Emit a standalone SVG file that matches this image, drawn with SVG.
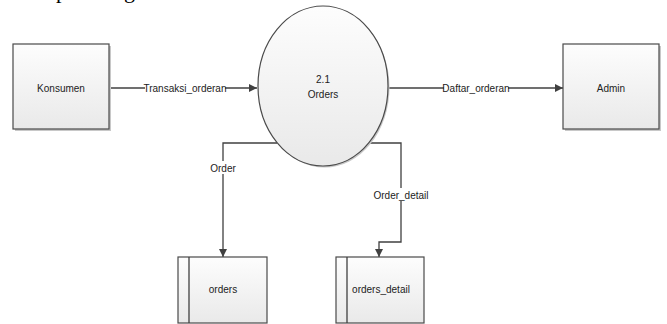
<svg xmlns="http://www.w3.org/2000/svg" width="667" height="324" viewBox="0 0 667 324">
<style>
.shape{fill:url(#g);stroke:#4a4a4a;stroke-width:1.2}
.shadow{fill:#c8c8c8;stroke:none}
.line{fill:none;stroke:#404040;stroke-width:1.3}
.lbl{font-family:"Liberation Sans",Arial,sans-serif;font-size:10px;fill:#222;text-anchor:middle}
.bg{fill:#fff}
.frag{font-family:"Liberation Serif","Times New Roman",serif;font-size:22px;fill:#000}
</style>
<defs>
<linearGradient id="g" x1="0" y1="0" x2="0" y2="1">
<stop offset="0" stop-color="#fdfdfd"/>
<stop offset="1" stop-color="#e9e9e9"/>
</linearGradient>
<marker id="arr" viewBox="0 0 10 10" refX="10" refY="5" markerWidth="8" markerHeight="8" markerUnits="userSpaceOnUse" orient="auto">
<path d="M0,0 L10,5 L0,10 z" fill="#404040"/>
</marker>
</defs>
<rect width="667" height="324" fill="#fff"/>
<text class="frag" x="56" y="-2">p</text>
<text class="frag" x="124" y="-2">g</text>

<g id="connectors">
<path class="line" d="M109,88 H257" marker-end="url(#arr)"/>
<path class="line" d="M388,88 H563" marker-end="url(#arr)"/>
<path class="line" d="M277,143 H223 V257" marker-end="url(#arr)"/>
<path class="line" d="M368,143 H401 V242 H379 V257" marker-end="url(#arr)"/>
<rect class="bg" x="145" y="81" width="80" height="13"/>
<text class="lbl" x="185" y="91.5">Transaksi_orderan</text>
<rect class="bg" x="444" y="81" width="64" height="13"/>
<text class="lbl" x="476" y="91.5">Daftar_orderan</text>
<rect class="bg" x="208" y="161" width="30" height="13"/>
<text class="lbl" x="223" y="171.5">Order</text>
<rect class="bg" x="374" y="188" width="54" height="13"/>
<text class="lbl" x="401" y="198.5">Order_detail</text>
</g>

<g id="konsumen">
<rect class="shadow" x="15" y="46" width="96" height="85"/>
<rect class="shape" x="13" y="44" width="96" height="85"/>
<text class="lbl" x="61" y="92">Konsumen</text>
</g>

<g id="orders-process">
<ellipse class="shadow" cx="324.5" cy="87.5" rx="65" ry="80"/>
<ellipse class="shape" cx="323" cy="86" rx="65" ry="80"/>
<text class="lbl" x="323" y="83">2.1</text>
<text class="lbl" x="323" y="98">Orders</text>
</g>

<g id="admin">
<rect class="shadow" x="565" y="46" width="96" height="85"/>
<rect class="shape" x="563" y="44" width="96" height="85"/>
<text class="lbl" x="611" y="92">Admin</text>
</g>

<g id="orders-store">
<rect class="shape" x="178" y="257" width="89" height="66"/>
<line class="line" x1="189" y1="257" x2="189" y2="323"/>
<text class="lbl" x="223" y="293">orders</text>
</g>

<g id="orders-detail-store">
<rect class="shape" x="336" y="257" width="88" height="66"/>
<line class="line" x1="347" y1="257" x2="347" y2="323"/>
<text class="lbl" x="381" y="293">orders_detail</text>
</g>
</svg>
